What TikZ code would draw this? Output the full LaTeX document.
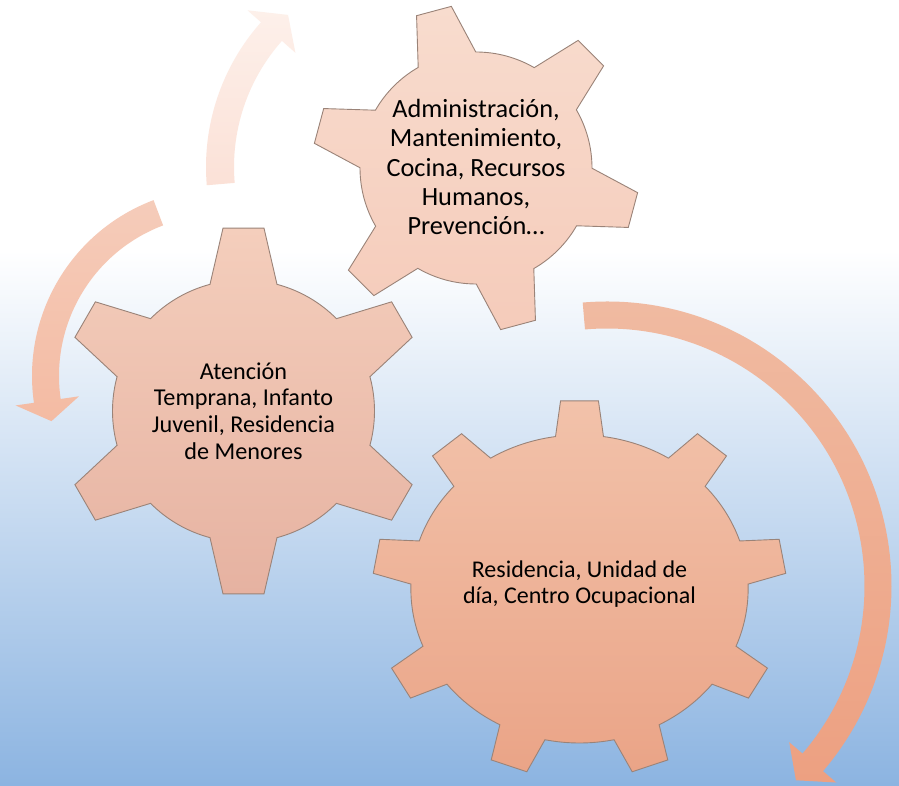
\documentclass[tikz,border=0pt]{standalone}
\usepackage{fontspec}
\setmainfont{Carlito}
\definecolor{bgblue}{HTML}{8CB4E1}
\definecolor{gearline}{HTML}{9A8378}
\definecolor{HTML-F8DCCE}{HTML}{F8DCCE}
\definecolor{HTML-F5CBBA}{HTML}{F5CBBA}
\definecolor{HTML-F4CEBC}{HTML}{F4CEBC}
\definecolor{HTML-E6B2A1}{HTML}{E6B2A1}
\definecolor{HTML-F2C2AA}{HTML}{F2C2AA}
\definecolor{HTML-EAA487}{HTML}{EAA487}
\definecolor{HTML-FDF0EA}{HTML}{FDF0EA}
\definecolor{HTML-FBE1D7}{HTML}{FBE1D7}
\definecolor{HTML-F5CCBA}{HTML}{F5CCBA}
\definecolor{HTML-F4BBA3}{HTML}{F4BBA3}
\definecolor{HTML-F0BBA2}{HTML}{F0BBA2}
\definecolor{HTML-EDA081}{HTML}{EDA081}
\tikzset{
  gearA/.style={draw=gearline, line width=0.9pt, top color=HTML-F8DCCE, bottom color=HTML-F5CBBA},
  gearB/.style={draw=gearline, line width=0.9pt, top color=HTML-F4CEBC, bottom color=HTML-E6B2A1},
  gearC/.style={draw=gearline, line width=0.9pt, top color=HTML-F2C2AA, bottom color=HTML-EAA487},
  arrTop/.style={top color=HTML-FDF0EA, bottom color=HTML-FBE1D7},
  arrLeft/.style={top color=HTML-F5CCBA, bottom color=HTML-F4BBA3},
  arrRight/.style={top color=HTML-F0BBA2, bottom color=HTML-EDA081},
  gtext/.style={align=center, text=black, inner sep=0pt}
}

% #1 centre, #2 xscale, #3 style, #4 teeth, #5 first tooth angle, #6 outer r, #7 inner r, #8 tip half width, #9 base half width
\newcommand\drawgear[9]{%
  \begin{scope}[shift={(#1)}, xscale=#2]
    \pgfmathsetmacro\gearAt{asin(#8/#6)}
    \pgfmathsetmacro\gearAb{asin(#9/#7)}
    \pgfmathsetmacro\gearSt{360/#4}
    \pgfmathtruncatemacro\gearNm{#4-1}
    \path[#3] ({#5-\gearAb}:#7pt)
      \foreach \k in {0,...,\gearNm}{
        -- ({#5+\k*\gearSt-\gearAt}:#6pt)
        -- ({#5+\k*\gearSt+\gearAt}:#6pt)
        -- ({#5+\k*\gearSt+\gearAb}:#7pt)
        arc[start angle={#5+\k*\gearSt+\gearAb}, end angle={#5+(\k+1)*\gearSt-\gearAb}, radius=#7pt]
      } -- cycle;
  \end{scope}}

% #1 centre, #2 r, #3 start angle, #4 shaft end angle, #5 tip angle, #6 half width, #7 head half width, #8 style
\newcommand\arcarrow[8]{%
  \begin{scope}[shift={(#1)}]
    \pgfmathsetmacro\arrRo{#2+#6}
    \pgfmathsetmacro\arrRi{#2-#6}
    \pgfmathsetmacro\arrBo{#2+#7}
    \pgfmathsetmacro\arrBi{#2-#7}
    \path[#8] (#3:\arrRo pt) arc[start angle=#3, end angle=#4, radius=\arrRo pt]
      -- (#4:\arrBo pt) -- (#5:#2pt) -- (#4:\arrBi pt) -- (#4:\arrRi pt)
      arc[start angle=#4, end angle=#3, radius=\arrRi pt] -- cycle;
  \end{scope}}

\begin{document}
\begin{tikzpicture}[x=1pt,y=1pt]
\useasboundingbox (0,0) rectangle (899,785);
% background
\fill[white] (0,0) rectangle (899,785);
\shade[top color=white, bottom color=bgblue] (0,0) rectangle (899,535);

% arrows
\arcarrow{424,618}{204}{184.8}{138.4}{131.8}{14}{32}{arrTop}
\arcarrow{220,409}{174.5}{110.7}{188.2}{195}{13.5}{32}{arrLeft}
\arcarrow{607,199}{271}{94.9}{-40.6}{-45.8}{13.5}{31}{arrRight}

% gears
\drawgear{476,617}{1}{gearA}{6}{-15}{163.5}{116}{18}{29.8}
\drawgear{243.5,374}{1}{gearB}{6}{30}{184}{131}{20.5}{33.5}
\drawgear{579.5,196}{1.095}{gearC}{9}{10}{189}{154}{17.3}{21.9}

% texts
\node[gtext, font=\fontsize{26.3}{29.4}\selectfont] (tadmin) at (476,618)
  {Administración,\\Mantenimiento,\\Cocina, Recursos\\Humanos,\\Prevención…};
\node[gtext, font=\fontsize{24.2}{26.7}\selectfont] (tatencion) at (243.5,374)
  {Atención\\Temprana, Infanto\\Juvenil, Residencia\\de Menores};
\node[gtext, font=\fontsize{24}{26.7}\selectfont] (tresid) at (579.5,201)
  {Residencia, Unidad de\\día, Centro Ocupacional};
\end{tikzpicture}
\end{document}
